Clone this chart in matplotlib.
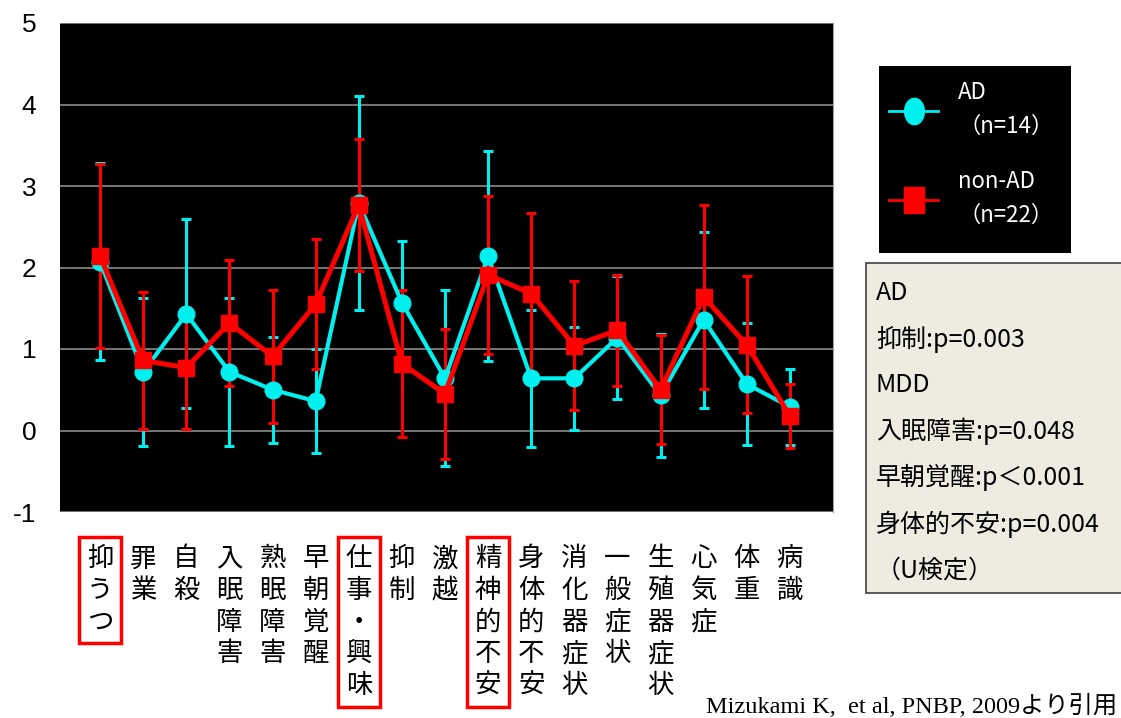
import matplotlib.pyplot as plt
from matplotlib.lines import Line2D
from matplotlib.markers import MarkerStyle
from matplotlib.patches import Rectangle
from matplotlib.transforms import Affine2D

items = ["抑うつ", "罪業", "自殺", "入眠障害", "熟眠障害", "早朝覚醒", "仕事・興味",
         "抑制", "激越", "精神的不安", "身体的不安", "消化器症状", "一般症状",
         "生殖器症状", "心気症", "体重", "病識"]
boxed = ["抑うつ", "仕事・興味", "精神的不安"]

ad_mean = [2.07, 0.72, 1.43, 0.72, 0.50, 0.36, 2.79, 1.57, 0.64, 2.14, 0.64, 0.64,
           1.14, 0.43, 1.36, 0.57, 0.29]
ad_sd = [1.21, 0.91, 1.16, 0.91, 0.65, 0.64, 1.31, 0.75, 1.08, 1.29, 0.84, 0.63,
         0.75, 0.76, 1.08, 0.75, 0.47]
nonad_mean = [2.14, 0.86, 0.77, 1.32, 0.91, 1.55, 2.77, 0.82, 0.45, 1.91, 1.68, 1.04,
              1.23, 0.50, 1.64, 1.05, 0.18]
nonad_sd = [1.13, 0.84, 0.75, 0.77, 0.82, 0.80, 0.81, 0.90, 0.80, 0.97, 0.99, 0.79,
            0.68, 0.67, 1.13, 0.84, 0.39]

stats_lines = ["AD", "抑制:p=0.003", "MDD", "入眠障害:p=0.048", "早朝覚醒:p＜0.001",
               "身体的不安:p=0.004", "（U検定）"]

plt.rcParams['font.family'] = ['Noto Sans CJK JP', 'DejaVu Sans']
plt.rcParams['axes.unicode_minus'] = False
CYAN = '#00f0f0'
RED = '#ff0000'

W, H = 1121, 718
fig = plt.figure(figsize=(W / 100, H / 100), dpi=100, facecolor='white')
ax = fig.add_axes([60 / W, 1 - 512 / H, 773 / W, 489 / H])
ax.set_facecolor('black')

x = list(range(len(items)))
ax.errorbar(x, ad_mean, yerr=ad_sd, fmt='none', ecolor=CYAN, elinewidth=2.2,
            capsize=3.5, capthick=2.2, zorder=2)
ax.errorbar(x, nonad_mean, yerr=nonad_sd, fmt='none', ecolor=RED, elinewidth=2.2,
            capsize=3.5, capthick=2.2, zorder=3)
ax.plot(x, ad_mean, color=CYAN, lw=3, marker='o', ms=12, zorder=4)
ax.plot(x, nonad_mean, color=RED, lw=3.6, marker='s', ms=12, zorder=5)

ax.set_xlim(-0.93, 17.0)
ax.set_ylim(-1, 5)
ax.set_yticks(range(-1, 6))
ax.yaxis.grid(True, color='#808080', lw=1.3)
ax.set_axisbelow(True)
for s in ['top', 'left', 'bottom']:
    ax.spines[s].set_visible(False)
ax.spines['right'].set_color('#a0a0a0')
ax.tick_params(axis='y', length=0, pad=17, labelsize=19)
for t in ax.get_yticklabels():
    t.set_family(['Liberation Sans'])

ax.set_xticks(x)
ax.set_xticklabels(["\n".join(s) for s in items], fontsize=19, linespacing=1.22,
                   va='top')
ax.tick_params(axis='x', length=0, pad=24)
for t, s in zip(ax.get_xticklabels(), items):
    if s in boxed:
        t.set_bbox(dict(facecolor='none', edgecolor=RED, lw=2.5, boxstyle='square,pad=0.3'))

# legend panel: black card behind a frameless legend
fig.patches.append(Rectangle((879 / W, 1 - 253 / H), 192 / W, 187 / H,
                             transform=fig.transFigure, facecolor='black',
                             edgecolor='none'))
tall = Affine2D().scale(0.75, 1.0)
handles = [Line2D([], [], color=CYAN, lw=2, marker=MarkerStyle('o', transform=tall), ms=19),
           Line2D([], [], color=RED, lw=2, marker=MarkerStyle('s', transform=tall), ms=19)]
leg = fig.legend(handles, ["AD\n（n=14）", "non-AD\n（n=22）"],
                 loc='upper left', bbox_to_anchor=(877 / W, 1 - 69 / H),
                 frameon=False, labelcolor='white', fontsize=16, handlelength=2.2,
                 handletextpad=0.9, labelspacing=1.45, borderpad=0.55, borderaxespad=0)
for t in leg.get_texts():
    t.set_linespacing(1.6)

# significance panel
fig.patches.append(Rectangle((866 / W, 1 - 593 / H), 270 / W, 330 / H,
                             transform=fig.transFigure, facecolor='#eeece1',
                             edgecolor='#404040', lw=1.2))
for i, s in enumerate(stats_lines):
    fig.text(876 / W, 1 - (293 + i * 46.2) / H, s, fontsize=18, va='center',
             ha='left', color='black')

fig.text(706 / W, 1 - 706 / H, "Mizukami K,  et al, PNBP, 2009より引用",
         family=['Liberation Serif', 'Noto Sans CJK JP'], fontsize=17.5,
         va='center', ha='left')

fig.savefig('out.png', dpi=100, facecolor='white')
